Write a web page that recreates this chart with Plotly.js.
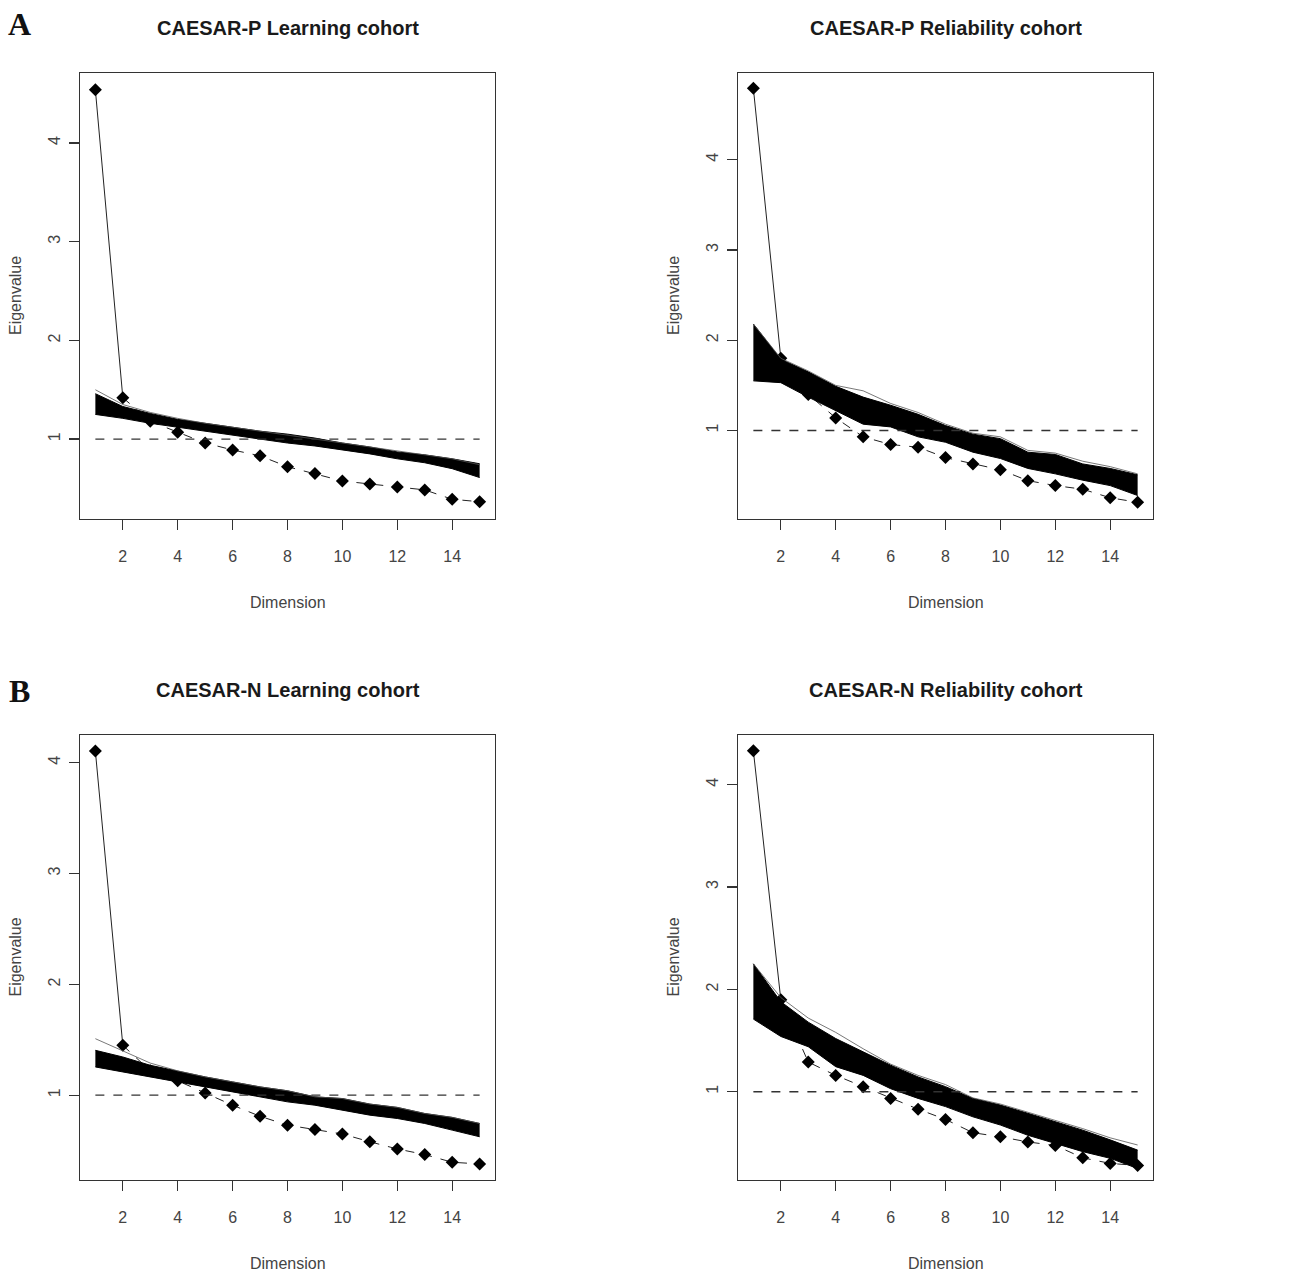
<!DOCTYPE html>
<html>
<head>
<meta charset="utf-8">
<script src="https://cdn.plot.ly/plotly-3.0.1.min.js"></script>
<style>html,body{margin:0;padding:0;background:#fff;}#chart{width:1290px;height:1276px;}</style>
</head>
<body>
<div id="chart"></div>
<script>
// ---- data ----
const dims = [1,2,3,4,5,6,7,8,9,10,11,12,13,14,15];
const xTicks = [2,4,6,8,10,12,14];
const yTicks = [1,2,3,4];
const refLevel = 1;

const titles = ["CAESAR-P Learning cohort","CAESAR-P Reliability cohort","CAESAR-N Learning cohort","CAESAR-N Reliability cohort"];
const panelLetters = ["A","B"];

// observed eigenvalues
const obsPL = [4.54,1.42,1.18,1.07,0.96,0.89,0.83,0.72,0.65,0.575,0.545,0.515,0.485,0.39,0.365];
const obsPR = [4.79,1.80,1.40,1.14,0.93,0.845,0.815,0.70,0.63,0.565,0.445,0.39,0.35,0.255,0.205];
const obsNL = [4.105,1.45,1.22,1.13,1.02,0.91,0.81,0.73,0.69,0.65,0.58,0.515,0.465,0.395,0.38];
const obsNR = [4.33,1.90,1.29,1.16,1.05,0.935,0.83,0.73,0.60,0.56,0.51,0.475,0.355,0.30,0.28];

// simulated eigenvalue envelope (lower / upper) and an outlying simulated curve
const simPLlo = [1.25,1.21,1.16,1.12,1.08,1.04,1.00,0.96,0.93,0.89,0.85,0.80,0.76,0.70,0.61];
const simPLhi = [1.46,1.33,1.26,1.20,1.16,1.12,1.08,1.05,1.01,0.96,0.92,0.87,0.84,0.80,0.75];
const simPLout = [1.50,1.35,1.27,1.21,1.16,1.12,1.08,1.04,1.00,0.96,0.92,0.88,0.84,0.80,0.74];

const simPRlo = [1.55,1.53,1.37,1.22,1.07,1.04,0.93,0.87,0.76,0.69,0.58,0.52,0.45,0.39,0.28];
const simPRhi = [2.18,1.79,1.65,1.49,1.37,1.28,1.18,1.055,0.96,0.91,0.76,0.735,0.63,0.58,0.51];
const simPRout = [2.18,1.80,1.66,1.50,1.44,1.30,1.20,1.07,0.97,0.93,0.78,0.75,0.66,0.60,0.52];

const simNLlo = [1.255,1.21,1.165,1.12,1.075,1.03,0.985,0.94,0.91,0.865,0.82,0.79,0.745,0.685,0.625];
const simNLhi = [1.405,1.345,1.27,1.215,1.165,1.12,1.075,1.04,0.985,0.97,0.92,0.89,0.835,0.80,0.745];
const simNLout = [1.51,1.40,1.29,1.22,1.165,1.12,1.075,1.04,0.985,0.97,0.92,0.89,0.835,0.80,0.745];

const simNRlo = [1.71,1.54,1.44,1.245,1.16,1.03,0.935,0.855,0.755,0.675,0.575,0.495,0.415,0.35,0.25];
const simNRhi = [2.25,1.88,1.68,1.52,1.39,1.26,1.145,1.05,0.935,0.87,0.79,0.71,0.625,0.53,0.43];
const simNRout = [2.25,1.92,1.72,1.58,1.42,1.27,1.16,1.07,0.94,0.88,0.80,0.72,0.64,0.55,0.48];

const yRanges = [[0.19,4.71],[0.02,4.96],[0.235,4.25],[0.138,4.485]];
const xRange = [0.44,15.56];

// ---- layout geometry ----
const W = 1290, H = 1276;
const FONT = "Liberation Sans, Arial, sans-serif";
const boxes = [
  {l:80, r:495, t:73, b:519},
  {l:738, r:1153, t:73, b:519},
  {l:80, r:495, t:735, b:1180},
  {l:738, r:1153, t:735, b:1180}
];
const panels = [
  {obs:obsPL, lo:simPLlo, hi:simPLhi, out:simPLout},
  {obs:obsPR, lo:simPRlo, hi:simPRhi, out:simPRout},
  {obs:obsNL, lo:simNLlo, hi:simNLhi, out:simNLout},
  {obs:obsNR, lo:simNRlo, hi:simNRhi, out:simNRout}
];

const traces = [];
const layout = {
  width: W, height: H,
  margin: {l:0, r:0, t:0, b:0},
  paper_bgcolor: "#fff", plot_bgcolor: "#fff",
  showlegend: false,
  annotations: [],
  font: {family: FONT, color: "#333"}
};

panels.forEach((p, i) => {
  const n = i + 1;
  const xa = n === 1 ? "x" : "x" + n;
  const ya = n === 1 ? "y" : "y" + n;
  const b = boxes[i];
  const axCommon = {
    showgrid: false, zeroline: false, showline: true, mirror: true,
    linecolor: "#333", linewidth: 1.3,
    ticks: "outside", ticklen: 10, tickwidth: 1.2, tickcolor: "#333",
    tickfont: {family: FONT, size: 16, color: "#444"},
    fixedrange: true
  };
  layout["xaxis" + (n === 1 ? "" : n)] = Object.assign({}, axCommon, {
    domain: [b.l / W, b.r / W], range: xRange, anchor: ya,
    tickmode: "array", tickvals: xTicks, ticklabelstandoff: 12
  });
  layout["yaxis" + (n === 1 ? "" : n)] = Object.assign({}, axCommon, {
    domain: [1 - b.b / H, 1 - b.t / H], range: yRanges[i], anchor: xa,
    tickmode: "array", tickvals: yTicks, tickangle: -90, ticklabelstandoff: 2
  });

  // observed eigenvalues (drawn first; simulated curves overlay them)
  traces.push({x: dims.slice(0, 2), y: p.obs.slice(0, 2), xaxis: xa, yaxis: ya, mode: "lines",
    line: {color: "#222", width: 1}, hoverinfo: "skip"});
  traces.push({x: dims.slice(1), y: p.obs.slice(1), xaxis: xa, yaxis: ya, mode: "lines",
    line: {color: "#222", width: 1, dash: "dash"}, hoverinfo: "skip"});
  traces.push({x: dims, y: p.obs, xaxis: xa, yaxis: ya, mode: "markers",
    marker: {symbol: "diamond", size: 10, color: "#000"}, hoverinfo: "skip"});

  // simulated envelope
  traces.push({x: dims, y: p.lo, xaxis: xa, yaxis: ya, mode: "lines",
    line: {color: "#000", width: 1}, hoverinfo: "skip"});
  traces.push({x: dims, y: p.hi, xaxis: xa, yaxis: ya, mode: "lines", fill: "tonexty",
    fillcolor: "#000", line: {color: "#000", width: 1}, hoverinfo: "skip"});
  traces.push({x: dims, y: p.out, xaxis: xa, yaxis: ya, mode: "lines",
    line: {color: "#555", width: 0.8}, hoverinfo: "skip"});

  // reference line at eigenvalue 1
  traces.push({x: [dims[0], dims[dims.length - 1]], y: [refLevel, refLevel], xaxis: xa, yaxis: ya,
    mode: "lines", line: {color: "#333", width: 1.3, dash: "dash"}, hoverinfo: "skip"});

  const cx = (b.l + b.r) / 2 / W;
  const cy = 1 - (b.t + b.b) / 2 / H;
  // title
  layout.annotations.push({text: "<b>" + titles[i] + "</b>", xref: "paper", yref: "paper",
    x: cx, y: 1 - (b.t - 45) / H, xanchor: "center", yanchor: "middle", showarrow: false,
    font: {family: FONT, size: 20, color: "#1a1a1a"}});
  // x axis title
  layout.annotations.push({text: "Dimension", xref: "paper", yref: "paper",
    x: cx, y: 1 - (b.b + 83) / H, xanchor: "center", yanchor: "middle", showarrow: false,
    font: {family: FONT, size: 16, color: "#444"}});
  // y axis title
  layout.annotations.push({text: "Eigenvalue", xref: "paper", yref: "paper",
    x: (b.l - 65) / W, y: cy, xanchor: "center", yanchor: "middle", showarrow: false, textangle: -90,
    font: {family: FONT, size: 16, color: "#444"}});
});

// panel letters
layout.annotations.push({text: "<b>" + panelLetters[0] + "</b>", xref: "paper", yref: "paper",
  x: 19 / W, y: 1 - 23.5 / H, xanchor: "center", yanchor: "middle", showarrow: false,
  font: {family: "Liberation Serif, Times New Roman, serif", size: 32, color: "#111"}});
layout.annotations.push({text: "<b>" + panelLetters[1] + "</b>", xref: "paper", yref: "paper",
  x: 19 / W, y: 1 - 691.5 / H, xanchor: "center", yanchor: "middle", showarrow: false,
  font: {family: "Liberation Serif, Times New Roman, serif", size: 32, color: "#111"}});

Plotly.newPlot("chart", traces, layout, {staticPlot: true, displayModeBar: false});
</script>
</body>
</html>
